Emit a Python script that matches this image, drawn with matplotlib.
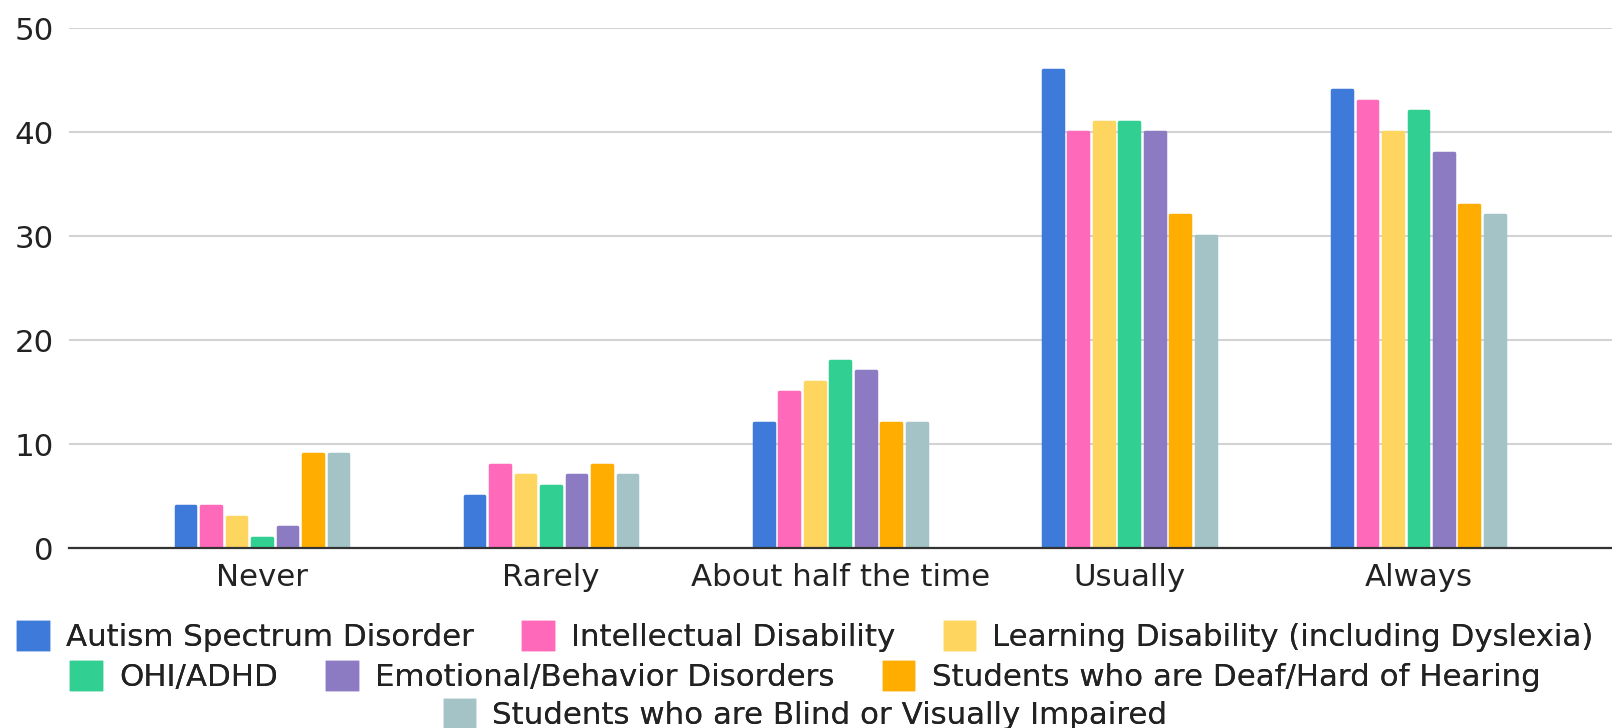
import matplotlib.pyplot as plt
import numpy as np

# survey responses per frequency, one series per disability group
categories = ['Never', 'Rarely', 'About half the time', 'Usually', 'Always']
groups = ['Autism Spectrum Disorder', 'Intellectual Disability',
          'Learning Disability (including Dyslexia)', 'OHI/ADHD',
          'Emotional/Behavior Disorders', 'Students who are Deaf/Hard of Hearing',
          'Students who are Blind or Visually Impaired']
autism = [4, 5, 12, 46, 44]
intellectual = [4, 8, 15, 40, 43]
learning = [3, 7, 16, 41, 40]
ohi_adhd = [1, 6, 18, 41, 42]
emotional = [2, 7, 17, 40, 38]
deaf = [9, 8, 12, 32, 33]
blind = [9, 7, 12, 30, 32]
colors = ['#3d7ad9', '#ff69b9', '#fed55f', '#31d092', '#8c7bc2', '#ffad00', '#a3c3c7']

series = [autism, intellectual, learning, ohi_adhd, emotional, deaf, blind]

plt.rcParams['font.family'] = ['DejaVu Sans']
fs = 22.2

fig = plt.figure(figsize=(16.12, 7.28), dpi=100)
ax = fig.add_axes([69 / 1612, 1 - 548 / 728, 1 - 69 / 1612, (548 - 28) / 728])

x = np.arange(len(categories))
slot = 0.0882
w = 0.068
handles = []
for i, (vals, c) in enumerate(zip(series, colors)):
    b = ax.bar(x + (i - 3) * slot, vals, width=w, color=c, edgecolor=c,
               linewidth=2.5, joinstyle='round', zorder=3)
    handles.append(b)

ax.set_ylim(0, 50)
ax.set_xlim(-0.668, 4.67)
ax.set_yticks([0, 10, 20, 30, 40, 50])
ax.set_xticks(x)
ax.set_xticklabels(categories)
ax.tick_params(axis='both', length=0, labelsize=fs, colors='#222222')
ax.tick_params(axis='y', pad=11)
ax.tick_params(axis='x', pad=11)
ax.grid(axis='y', color='#d3d3d3', linewidth=1.5, zorder=0)
for s in ['top', 'right', 'left']:
    ax.spines[s].set_visible(False)
ax.spines['bottom'].set_color('#333333')
ax.spines['bottom'].set_linewidth(1.6)
ax.spines['bottom'].set_zorder(4)

# legend laid out as three centred rows
rows = [[0, 1, 2], [3, 4, 5], [6]]
row_y = [1 - 637 / 728, 1 - 677 / 728, 1 - 715 / 728]
for idx, y in zip(rows, row_y):
    leg = fig.legend([handles[k] for k in idx], [groups[k] for k in idx],
                     loc='center', bbox_to_anchor=(0.5, y), ncol=len(idx),
                     frameon=False, fontsize=fs, handlelength=0.95,
                     handleheight=1.0, handletextpad=0.6, columnspacing=1.6,
                     borderpad=0, borderaxespad=0)
    for t in leg.get_texts():
        t.set_color('#222222')
    fig.add_artist(leg)

fig.savefig('out.png', dpi=100)
